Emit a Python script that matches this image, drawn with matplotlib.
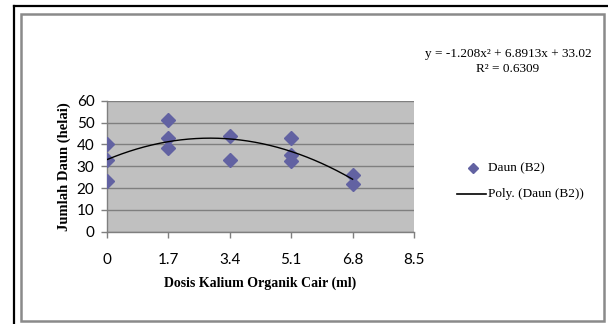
import matplotlib
matplotlib.use("Agg")
import matplotlib.pyplot as plt
from matplotlib.patches import Rectangle
from matplotlib.lines import Line2D
import numpy as np

# Data
dose = [0, 0, 0, 1.7, 1.7, 1.7, 3.4, 3.4, 5.1, 5.1, 5.1, 6.8, 6.8]
daun = [40, 33, 23, 51, 43, 38.5, 44, 33, 43, 35, 32.5, 26, 22]
coef = [-1.208, 6.8913, 33.02]   # polynomial trendline y = a x^2 + b x + c
x_ticks = [0, 1.7, 3.4, 5.1, 6.8, 8.5]
x_tick_labels = ["0", "1.7", "3.4", "5.1", "6.8", "8.5"]
y_ticks = [0, 10, 20, 30, 40, 50, 60]

W, H = 608, 324
fig = plt.figure(figsize=(W / 100, H / 100), dpi=100)
fig.patch.set_facecolor("white")

def fx(px):
    return px / W

def fy(py):
    return 1 - py / H

# outer frames
fig.add_artist(Line2D([fx(14), fx(14)], [fy(6), 0], color="black", lw=1.6, transform=fig.transFigure))
fig.add_artist(Line2D([fx(14), 1], [fy(6), fy(6)], color="black", lw=1.6, transform=fig.transFigure))
fig.add_artist(Rectangle((fx(21), fy(320.5)), fx(603.5) - fx(21), fy(14) - fy(320.5),
                         fill=False, edgecolor="#8a8a8a", lw=1.8, transform=fig.transFigure))

left, right = 107, 414
top, bottom = 100.7, 231.7
ax = fig.add_axes([fx(left), fy(bottom), fx(right) - fx(left), fy(top) - fy(bottom)])
ax.set_facecolor("#c0c0c0")
ax.set_xlim(0, 8.5)
ax.set_ylim(0, 60)
ax.set_yticks(y_ticks)
ax.set_xticks(x_ticks)
ax.set_xticklabels(x_tick_labels)
ax.yaxis.grid(True, color="#7f7f7f", lw=1.0)
ax.set_axisbelow(True)
for s in ["top", "right"]:
    ax.spines[s].set_visible(False)
for s in ["left", "bottom"]:
    ax.spines[s].set_color("#7f7f7f")
    ax.spines[s].set_linewidth(1.0)
ax.tick_params(axis="both", colors="#7f7f7f", length=4, width=1.0, labelcolor="black",
               labelsize=11)
for lab in ax.get_xticklabels() + ax.get_yticklabels():
    lab.set_family("Lato")
ax.tick_params(axis="x", pad=11)
ax.tick_params(axis="y", pad=5)

ax.plot(dose, daun, linestyle="none", marker="D", markersize=7.5,
        color="#6262a2", markeredgecolor="#6262a2", zorder=3)
xs = np.linspace(0, 6.8, 200)
ax.plot(xs, np.polyval(coef, xs), color="black", lw=1.0, zorder=4)

ax.set_xlabel("Dosis Kalium Organik Cair (ml)", family="Liberation Serif",
              fontweight="bold", fontsize=10, labelpad=7)
ax.set_ylabel("Jumlah Daun (helai)", family="Liberation Serif",
              fontweight="bold", fontsize=10.5, labelpad=4)

# equation text
fig.text(fx(508), fy(54), "y = -1.208x² + 6.8913x + 33.02", ha="center", va="center",
         family="Liberation Serif", fontsize=9.5)
fig.text(fx(508), fy(69), "R² = 0.6309", ha="center", va="center",
         family="Liberation Serif", fontsize=9.5)

# legend
fig.add_artist(Line2D([fx(473)], [fy(168)], marker="D", markersize=5, color="#6262a2",
                      linestyle="none", transform=fig.transFigure))
fig.text(fx(488), fy(168), "Daun (B2)", ha="left", va="center",
         family="Liberation Serif", fontsize=9.5)
fig.add_artist(Line2D([fx(457), fx(486)], [fy(194), fy(194)], color="black", lw=1.2,
                      transform=fig.transFigure))
fig.text(fx(488), fy(194), "Poly. (Daun (B2))", ha="left", va="center",
         family="Liberation Serif", fontsize=9.5)

fig.savefig("out.png", dpi=100)
